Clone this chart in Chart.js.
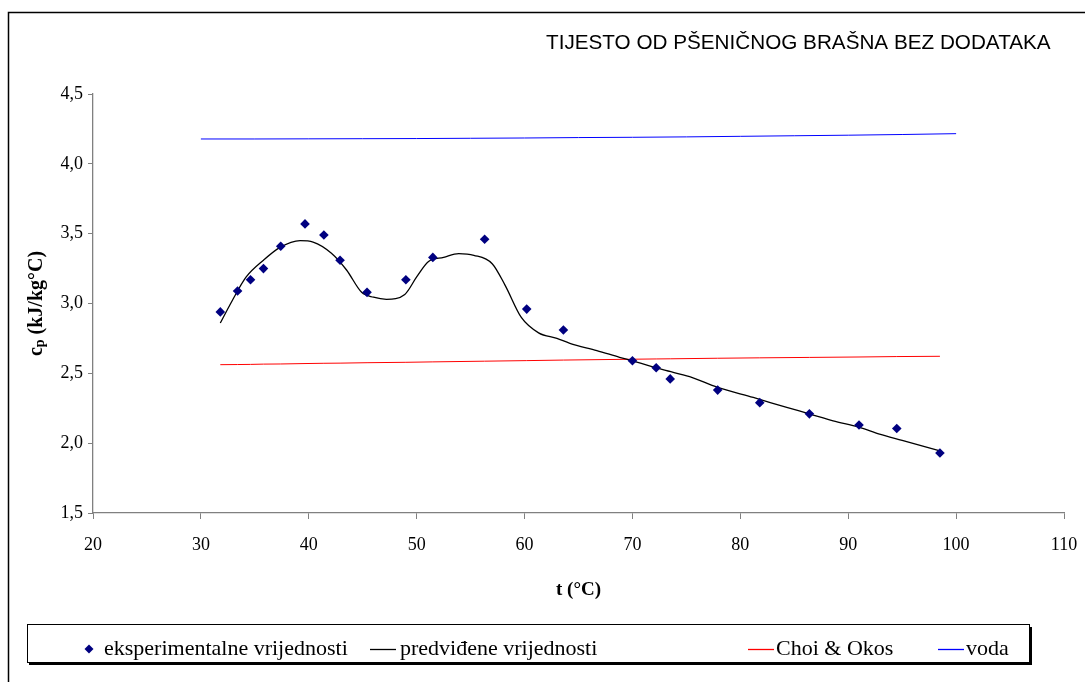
<!DOCTYPE html>
<html>
<head>
<meta charset="utf-8">
<title>Tijesto od pšeničnog brašna</title>
<script src="https://cdn.jsdelivr.net/npm/chart.js@4/dist/chart.umd.min.js"></script>
<style>
  html, body { margin: 0; padding: 0; background: #fff; }
  #wrap { width: 1085px; height: 682px; }
</style>
</head>
<body>
<div id="wrap"><canvas id="cpChart" width="1085" height="682"></canvas></div>
<script>
// measured points
var tExp  = [31.8, 33.4, 34.6, 35.8, 37.4, 39.65, 41.4, 42.9, 45.4, 49.0, 51.5, 56.3, 60.2,
             63.6, 70.0, 72.2, 73.5, 77.9, 81.8, 86.4, 91.0, 94.5, 98.5];
var cpExp = [2.94, 3.09, 3.17, 3.25, 3.41, 3.57, 3.49, 3.31, 3.08, 3.17, 3.33, 3.46, 2.96,
             2.81, 2.59, 2.54, 2.46, 2.38, 2.29, 2.21, 2.13, 2.105, 1.93];

// model prediction
var tPred  = [31.8, 32.9, 34.2, 35.8, 37.3, 39.2, 40.4, 42.1, 43.5, 44.9, 46.0, 47.2, 48.9,
              50.0, 51.1, 52.5, 53.9, 55.3, 57.0, 58.2, 59.7, 61.3, 63.0, 64.2, 66.7, 68.8,
              70.0, 72.9, 75.3, 77.9, 81.2, 84.3, 86.4, 88.6, 91.0, 92.9, 95.0, 98.5];
var cpPred = [2.86, 3.02, 3.19, 3.31, 3.40, 3.45, 3.44, 3.36, 3.24, 3.08, 3.045, 3.03, 3.065,
              3.19, 3.30, 3.33, 3.357, 3.345, 3.285, 3.13, 2.90, 2.79, 2.75, 2.715, 2.663, 2.615,
              2.589, 2.524, 2.476, 2.399, 2.327, 2.256, 2.21, 2.16, 2.115, 2.065, 2.02, 1.945];

// Choi & Okos model at the measured temperatures
var cpChoi = [2.562, 2.563, 2.564, 2.566, 2.567, 2.570, 2.572, 2.573, 2.576, 2.579, 2.582,
              2.587, 2.591, 2.595, 2.601, 2.603, 2.604, 2.608, 2.611, 2.614, 2.617, 2.620, 2.622];

// water
var tWater  = [30, 35, 40, 45, 50, 55, 60, 65, 70, 75, 80, 85, 90, 95, 100];
var cpWater = [4.178, 4.178, 4.179, 4.180, 4.181, 4.183, 4.185, 4.188, 4.190, 4.193, 4.197,
               4.201, 4.205, 4.210, 4.216];

var seriesNames = ["eksperimentalne vrijednosti", "predviđene vrijednosti", "Choi & Okos", "voda"];
var chartTitle = "TIJESTO OD PŠENIČNOG BRAŠNA BEZ DODATAKA";

function pairs(xs, ys) {
    return xs.map(function (x, i) { return { x: x, y: ys[i] }; });
}

var serif = "'Liberation Serif', 'Times New Roman', serif";
var sans = "'Liberation Sans', Arial, sans-serif";
var axisGray = "#808080";

// frame, title, axis titles and the legend box
var decorations = {
    id: "decorations",
    afterDraw: function (chart) {
        var ctx = chart.ctx;
        var area = chart.chartArea;
        ctx.save();

        // outer frame
        ctx.strokeStyle = "#000";
        ctx.lineWidth = 1.5;
        ctx.strokeRect(8.5, 12.5, 1200, 800);

        // title
        ctx.fillStyle = "#000";
        ctx.font = "20.7px " + sans;
        ctx.textAlign = "left";
        ctx.textBaseline = "middle";
        ctx.fillText(chartTitle, 546, 43);

        // x axis title
        ctx.font = "bold 19px " + serif;
        ctx.textAlign = "center";
        ctx.fillText("t (°C)", (area.left + area.right) / 2, area.bottom + 77);

        // y axis title with subscript p
        ctx.translate(37, (area.top + area.bottom) / 2);
        ctx.rotate(-Math.PI / 2);
        var main = "bold 20px " + serif, sub = "bold 14px " + serif;
        ctx.font = main; var wc = ctx.measureText("c").width;
        ctx.font = sub; var wp = ctx.measureText("p").width;
        ctx.font = main; var wr = ctx.measureText(" (kJ/kg°C)").width;
        var x0 = -(wc + wp + wr) / 2;
        ctx.textAlign = "left";
        ctx.fillText("c", x0, 0);
        ctx.font = sub;
        ctx.fillText("p", x0 + wc, 3);
        ctx.font = main;
        ctx.fillText(" (kJ/kg°C)", x0 + wc + wp, 0);
        ctx.restore();

        // legend
        ctx.save();
        ctx.fillStyle = "#000";
        ctx.fillRect(29, 627, 1003, 38);
        ctx.fillStyle = "#fff";
        ctx.fillRect(27, 624, 1003, 38);
        ctx.strokeStyle = "#000";
        ctx.lineWidth = 1;
        ctx.strokeRect(27.5, 624.5, 1002, 38);

        var ly = 649;
        var symX = [89, 370, 748, 938];
        var textX = [104, 400, 776, 966];
        ctx.font = "22px " + serif;
        ctx.textBaseline = "middle";
        ctx.textAlign = "left";
        chart.data.datasets.forEach(function (ds, i) {
            if (i === 0) {
                ctx.fillStyle = ds.backgroundColor;
                ctx.beginPath();
                ctx.moveTo(symX[i], ly - 4.5);
                ctx.lineTo(symX[i] + 4.5, ly);
                ctx.lineTo(symX[i], ly + 4.5);
                ctx.lineTo(symX[i] - 4.5, ly);
                ctx.closePath();
                ctx.fill();
            } else {
                ctx.strokeStyle = ds.borderColor;
                ctx.lineWidth = 1.3;
                ctx.beginPath();
                ctx.moveTo(symX[i], ly + 0.5);
                ctx.lineTo(symX[i] + 26, ly + 0.5);
                ctx.stroke();
            }
            ctx.fillStyle = "#000";
            ctx.fillText(ds.label, textX[i], ly);
        });
        ctx.restore();
    }
};

// keep the plot area where it was laid out, ignoring label overhang
function noOverhang(scale) {
    scale.paddingLeft = 0;
    scale.paddingRight = 0;
    scale.paddingTop = 0;
    scale.paddingBottom = 0;
}

var ctx = document.getElementById("cpChart").getContext("2d");
var cpChart = new Chart(ctx, {
    type: "scatter",
    data: {
        datasets: [
            {
                label: seriesNames[0],
                data: pairs(tExp, cpExp),
                showLine: false,
                pointStyle: "rectRot",
                pointRadius: 4.8,
                pointHoverRadius: 4.8,
                backgroundColor: "#000080",
                borderColor: "#000080",
                borderWidth: 0
            },
            {
                label: seriesNames[1],
                data: pairs(tPred, cpPred),
                showLine: true,
                pointRadius: 0,
                borderColor: "#000000",
                borderWidth: 1.3,
                cubicInterpolationMode: "monotone"
            },
            {
                label: seriesNames[2],
                data: pairs(tExp, cpChoi),
                showLine: true,
                pointRadius: 0,
                borderColor: "#ff0000",
                borderWidth: 1
            },
            {
                label: seriesNames[3],
                data: pairs(tWater, cpWater),
                showLine: true,
                pointRadius: 0,
                borderColor: "#0000ff",
                borderWidth: 1
            }
        ]
    },
    options: {
        responsive: false,
        animation: false,
        events: [],
        layout: { padding: { left: 0, top: 94, right: 21, bottom: 0 } },
        plugins: {
            legend: { display: false },
            title: { display: false },
            tooltip: { enabled: false }
        },
        scales: {
            x: {
                type: "linear",
                min: 20,
                max: 110,
                afterFit: function (scale) { scale.height = 169; noOverhang(scale); },
                ticks: {
                    stepSize: 10,
                    color: "#000",
                    font: { family: serif, size: 18 },
                    padding: 15,
                    maxRotation: 0
                },
                grid: { drawOnChartArea: false, drawTicks: true, tickLength: 6, color: axisGray },
                border: { color: axisGray, width: 1.3 }
            },
            y: {
                min: 1.5,
                max: 4.5,
                afterFit: function (scale) { scale.width = 93; noOverhang(scale); },
                ticks: {
                    stepSize: 0.5,
                    color: "#000",
                    font: { family: serif, size: 18 },
                    padding: 5,
                    callback: function (v) { return v.toFixed(1).replace(".", ","); }
                },
                grid: { drawOnChartArea: false, drawTicks: true, tickLength: 5, color: axisGray },
                border: { color: axisGray, width: 1.3 }
            }
        }
    },
    plugins: [decorations]
});
</script>
</body>
</html>
